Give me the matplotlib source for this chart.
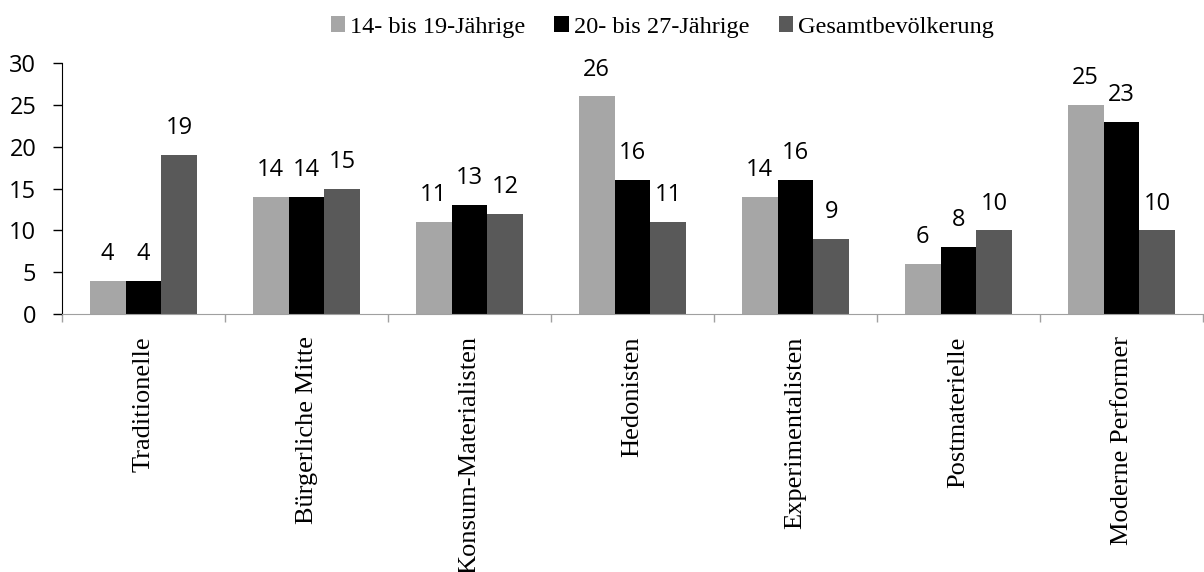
import matplotlib.pyplot as plt
import numpy as np

categories = ["Traditionelle", "Bürgerliche Mitte", "Konsum-Materialisten", "Hedonisten",
              "Experimentalisten", "Postmaterielle", "Moderne Performer"]
series_names = ["14- bis 19-Jährige", "20- bis 27-Jährige", "Gesamtbevölkerung"]
teens = [4, 14, 11, 26, 14, 6, 25]
young_adults = [4, 14, 13, 16, 16, 8, 23]
total = [19, 15, 12, 11, 9, 10, 10]
colors = ["#a6a6a6", "#000000", "#595959"]

serif = "Liberation Serif"
sans = "Open Sans"

fig = plt.figure(figsize=(12.04, 5.72), dpi=100)
ax = fig.add_axes([62 / 1204, 1 - 314 / 572, (1203 - 62) / 1204, (314 - 63) / 572])

x = np.arange(len(categories))
w = 0.22
for i, (vals, name) in enumerate(zip([teens, young_adults, total], series_names)):
    bars = ax.bar(x + (i - 1) * w, vals, w, color=colors[i], label=name)
    for b, v in zip(bars, vals):
        ax.text(b.get_x() + b.get_width() / 2, v + 3.2, str(v), ha="center", va="center",
                fontsize=17, family=sans)

ax.set_xlim(-0.5, len(categories) - 0.5)
ax.set_ylim(0, 30)
ax.set_yticks(range(0, 31, 5))
ax.tick_params(axis="y", labelsize=17, length=6.5, width=1, direction="out", pad=12)
for t in ax.get_yticklabels():
    t.set_family(sans)

ax.set_xticks(x)
ax.set_xticklabels(categories, rotation=90, fontsize=19, family=serif)
ax.tick_params(axis="x", length=0, pad=16)
ax.set_xticks(np.arange(-0.5, len(categories)), minor=True)
ax.tick_params(axis="x", which="minor", length=6, color="#a0a0a0", width=1)

for s in ["top", "right"]:
    ax.spines[s].set_visible(False)
ax.spines["bottom"].set_color("#a0a0a0")
ax.spines["left"].set_color("black")

fig.legend(loc="center", bbox_to_anchor=(0.55, 1 - 27 / 572), ncol=3, frameon=False,
           prop={"family": serif, "size": 17.5}, handlelength=0.6, handleheight=0.6,
           handletextpad=0.2, columnspacing=1.2)

fig.savefig("out.png", dpi=100)
